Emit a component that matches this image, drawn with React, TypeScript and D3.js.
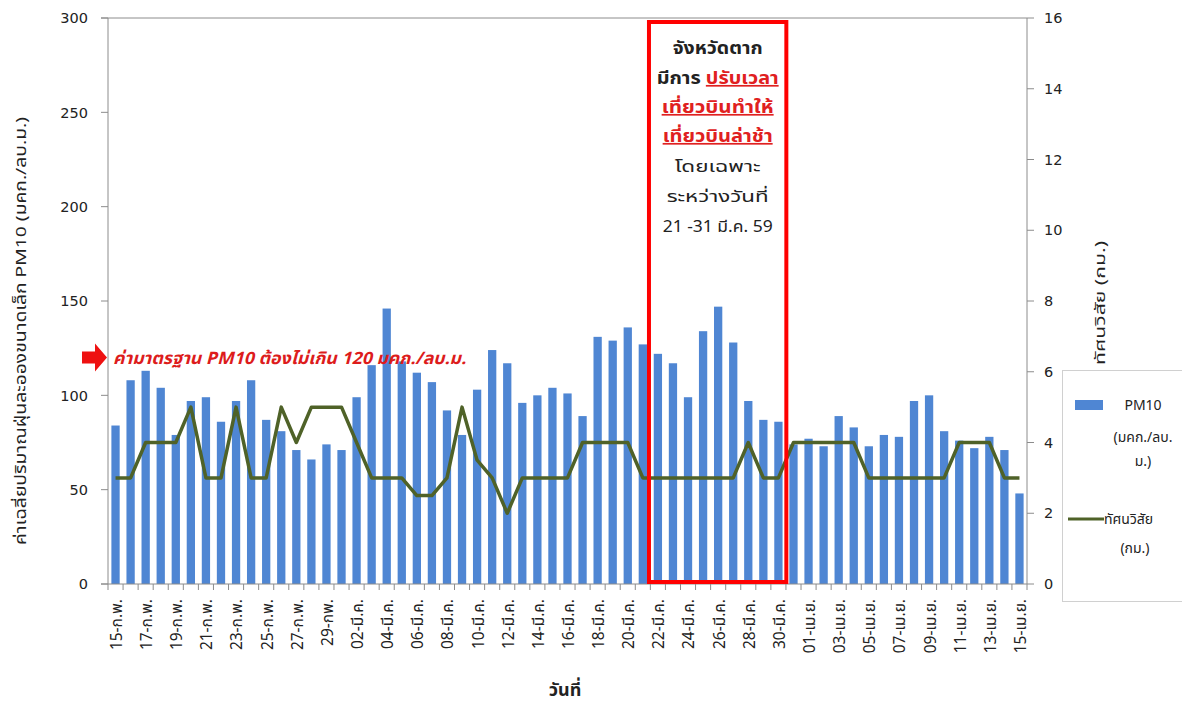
import React from "react";
import * as d3 from "d3";

const categories: string[] = [
  "15-ก.พ.", "16-ก.พ.", "17-ก.พ.", "18-ก.พ.", "19-ก.พ.", "20-ก.พ.", "21-ก.พ.", "22-ก.พ.", "23-ก.พ.", "24-ก.พ.",
  "25-ก.พ.", "26-ก.พ.", "27-ก.พ.", "28-ก.พ.", "29-กพ.",
  "01-มี.ค.", "02-มี.ค.", "03-มี.ค.", "04-มี.ค.", "05-มี.ค.", "06-มี.ค.", "07-มี.ค.", "08-มี.ค.", "09-มี.ค.", "10-มี.ค.",
  "11-มี.ค.", "12-มี.ค.", "13-มี.ค.", "14-มี.ค.", "15-มี.ค.", "16-มี.ค.", "17-มี.ค.", "18-มี.ค.", "19-มี.ค.", "20-มี.ค.",
  "21-มี.ค.", "22-มี.ค.", "23-มี.ค.", "24-มี.ค.", "25-มี.ค.", "26-มี.ค.", "27-มี.ค.", "28-มี.ค.", "29-มี.ค.", "30-มี.ค.",
  "31-มี.ค.",
  "01-เม.ย.", "02-เม.ย.", "03-เม.ย.", "04-เม.ย.", "05-เม.ย.", "06-เม.ย.", "07-เม.ย.", "08-เม.ย.", "09-เม.ย.", "10-เม.ย.",
  "11-เม.ย.", "12-เม.ย.", "13-เม.ย.", "14-เม.ย.", "15-เม.ย.",
];

const pm10: number[] = [
  84, 108, 113, 104, 79, 97, 99, 86, 97, 108,
  87, 81, 71, 66, 74,
  71, 99, 116, 146, 118, 112, 107, 92, 79, 103,
  124, 117, 96, 100, 104, 101, 89, 131, 129, 136,
  127, 122, 117, 99, 134, 147, 128, 97, 87, 86,
  74,
  77, 73, 89, 83, 73, 79, 78, 97, 100, 81,
  76, 72, 78, 71, 48,
];

const visibility: number[] = [
  3, 3, 4, 4, 4, 5, 3, 3, 5, 3,
  3, 5, 4, 5, 5,
  5, 4, 3, 3, 3, 2.5, 2.5, 3, 5, 3.5,
  3, 2, 3, 3, 3, 3, 4, 4, 4, 4,
  3, 3, 3, 3, 3, 3, 3, 4, 3, 3,
  4,
  4, 4, 4, 4, 3, 3, 3, 3, 3, 3,
  4, 4, 4, 3, 3,
];

const leftTicks: number[] = [0, 50, 100, 150, 200, 250, 300];
const rightTicks: number[] = [0, 2, 4, 6, 8, 10, 12, 14, 16];

const leftTitle = "ค่าเฉลี่ยปริมาณฝุ่นละอองขนาดเล็ก PM10 (มคก./ลบ.ม.)";
const rightTitle = "ทัศนวิสัย (กม.)";
const xTitle = "วันที่";
const standardNote = "ค่ามาตรฐาน PM10 ต้องไม่เกิน 120 มคก./ลบ.ม.";
const boxStart = "21-มี.ค.";
const boxEnd = "31-มี.ค.";

const THAI = "Tahoma, 'Noto Sans Thai', 'Noto Sans Thai UI', 'Leelawadee UI', 'DejaVu Sans', sans-serif";
const NUM = "'DejaVu Sans', Verdana, sans-serif";

export default function App() {
  const W = 1182, H = 708;
  const left = 108, right = 1027, top = 18, bottom = 584;

  const x = d3.scaleBand<string>().domain(categories).range([left, right]).paddingInner(0.45).paddingOuter(0.225);
  const step = x.step();
  const y = d3.scaleLinear().domain([0, 300]).range([bottom, top]);
  const y2 = d3.scaleLinear().domain([0, 16]).range([bottom, top]);
  const cx = (c: string) => (x(c) as number) + x.bandwidth() / 2;

  const line = d3.line<number>()
    .x((_, i) => cx(categories[i]))
    .y((v) => y2(v));

  const axisColor = "#8c8c8c";
  const boxX0 = (x(boxStart) as number) + x.bandwidth() + 2;
  const boxX1 = (x(boxEnd) as number) - 3;
  const bcx = (boxX0 + boxX1) / 2;

  return (
    <svg width={W} height={H} style={{ position: "absolute", left: 0, top: 0, background: "#fff" }}>
      <rect x={0} y={0} width={W} height={H} fill="#fff" />
      <line x1={left - 7} x2={right} y1={top} y2={top} stroke={axisColor} strokeWidth={1} />
      {pm10.map((v, i) => (
        <rect key={i} x={x(categories[i])} y={y(v)} width={x.bandwidth()} height={bottom - y(v)} fill="#4f86d3" />
      ))}
      <path d={line(visibility) || ""} fill="none" stroke="#4f6228" strokeWidth={3.5} strokeLinejoin="round" />

      <line x1={left} x2={left} y1={top} y2={bottom} stroke={axisColor} />
      {leftTicks.map((t) => (
        <g key={t}>
          <line x1={left - 7} x2={left} y1={y(t)} y2={y(t)} stroke={axisColor} />
          <text x={88} y={y(t)} dy="0.36em" textAnchor="end" fontFamily={NUM} fontSize={14.5} fill="#222">{t}</text>
        </g>
      ))}
      <line x1={right} x2={right} y1={top} y2={bottom} stroke={axisColor} />
      {rightTicks.map((t) => (
        <g key={t}>
          <line x1={right} x2={right + 7} y1={y2(t)} y2={y2(t)} stroke={axisColor} />
          <text x={1044} y={y2(t)} dy="0.36em" textAnchor="start" fontFamily={NUM} fontSize={14.5} fill="#222">{t}</text>
        </g>
      ))}
      <line x1={left - 7} x2={right} y1={bottom} y2={bottom} stroke={axisColor} />
      {d3.range(categories.length + 1).map((k) => (
        <line key={k} x1={left + k * step} x2={left + k * step} y1={bottom} y2={bottom + 6} stroke={axisColor} />
      ))}
      {categories.map((c, i) =>
        i % 2 === 0 ? (
          <text key={c} transform={`translate(${cx(c) + 1},${599}) rotate(-90)`} textAnchor="end" dy="0.35em"
            fontFamily={THAI} fontSize={15.5} fill="#222">{c}</text>
        ) : null
      )}

      <text transform={`translate(21,${331}) rotate(-90)`} textAnchor="middle" dy="0.35em" fontFamily={THAI} fontSize={15}
        textLength={428} lengthAdjust="spacingAndGlyphs" fill="#222">{leftTitle}</text>
      <text transform={`translate(1100,${303}) rotate(-90)`} textAnchor="middle" dy="0.35em" fontFamily={THAI} fontSize={14.5}
        textLength={124} lengthAdjust="spacingAndGlyphs" fill="#222">{rightTitle}</text>
      <text x={565} y={690} textAnchor="middle" dy="0.35em" fontFamily={THAI} fontSize={18} fontWeight="bold" fill="#222">{xTitle}</text>

      <path d={`M82,${y(120) - 6} L95,${y(120) - 6} L95,${y(120) - 14} L107,${y(120)} L95,${y(120) + 14} L95,${y(120) + 6} L82,${y(120) + 6} Z`} fill="#ee1111" />
      <text x={113} y={y(120)} dy="0.35em" fontFamily={THAI} fontSize={17} fontStyle="italic" fontWeight="bold"
        textLength={353} lengthAdjust="spacingAndGlyphs" fill="#dd1c1c">{standardNote}</text>

      <rect x={boxX0} y={22} width={boxX1 - boxX0} height={bottom - 24} fill="none" stroke="#ff0000" strokeWidth={4} />
      <g fontFamily={THAI} fontSize={17} textAnchor="middle" fill="#222">
        <text x={bcx} y={48} dy="0.35em" fontWeight="bold" textLength={90} lengthAdjust="spacingAndGlyphs">จังหวัดตาก</text>
        <text x={bcx} y={78} dy="0.35em" fontWeight="bold" textLength={122} lengthAdjust="spacingAndGlyphs">
          มีการ <tspan fill="#e02020" style={{ textDecoration: "underline" }}>ปรับเวลา</tspan>
        </text>
        <text x={bcx} y={107} dy="0.35em" fontWeight="bold" fill="#e02020" textLength={112} lengthAdjust="spacingAndGlyphs" style={{ textDecoration: "underline" }}>เที่ยวบินทำให้</text>
        <text x={bcx} y={136} dy="0.35em" fontWeight="bold" fill="#e02020" textLength={110} lengthAdjust="spacingAndGlyphs" style={{ textDecoration: "underline" }}>เที่ยวบินล่าช้า</text>
        <text x={bcx} y={166} dy="0.35em" fontSize={16} textLength={86} lengthAdjust="spacingAndGlyphs">โดยเฉพาะ</text>
        <text x={bcx} y={196} dy="0.35em" fontSize={16} textLength={102} lengthAdjust="spacingAndGlyphs">ระหว่างวันที่</text>
        <text x={bcx} y={227} dy="0.35em" fontSize={15.5} textLength={110} lengthAdjust="spacingAndGlyphs">21 -31 มี.ค. 59</text>
      </g>

      <rect x={1062.5} y={370.5} width={130} height={231} fill="#fff" stroke="#d0d0d0" />
      <rect x={1075} y={400} width={28} height={10} fill="#4f86d3" />
      <g fontFamily={THAI} fontSize={14} fill="#222">
        <text x={1143} y={405} dy="0.35em" textAnchor="middle">PM10</text>
        <text x={1143} y={437} dy="0.35em" textAnchor="middle">(มคก./ลบ.</text>
        <text x={1143} y={461} dy="0.35em" textAnchor="middle">ม.)</text>
        <line x1={1068} x2={1104} y1={519} y2={519} stroke="#4f6228" strokeWidth={3} />
        <text x={1104} y={519} dy="0.35em" textAnchor="start">ทัศนวิสัย</text>
        <text x={1135} y={548} dy="0.35em" textAnchor="middle">(กม.)</text>
      </g>
    </svg>
  );
}
